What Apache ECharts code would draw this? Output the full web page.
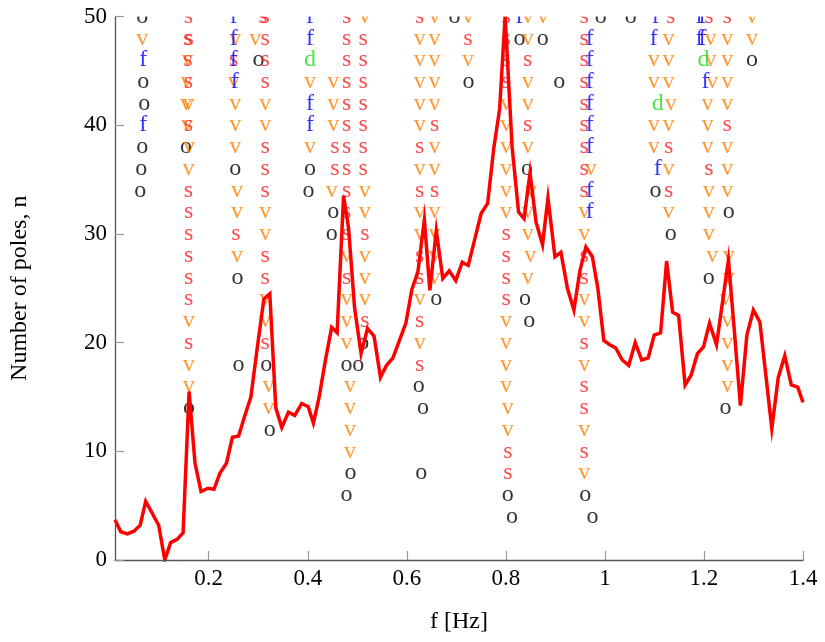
<!DOCTYPE html>
<html>
<head>
<meta charset="utf-8">
<script src="https://cdn.jsdelivr.net/npm/echarts@6/dist/echarts.min.js"></script>
<style>
  html, body { margin: 0; padding: 0; background: #fff; }
  #chart { width: 825px; height: 642px; }
</style>
</head>
<body>
<div id="chart"></div>
<script>
// Spectrum-like curve overlaid on the stabilization diagram
const freq = [0.0107,0.0223,0.0354,0.0489,0.0616,0.0727,0.0858,0.0989,0.1113,0.1230,0.1361,0.1482,0.1603,0.1723,0.1844,0.1985,0.2106,0.2227,0.2358,0.2478,0.2603,0.2730,0.2851,0.2982,0.3113,0.3233,0.3354,0.3475,0.3610,0.3737,0.3878,0.4008,0.4113,0.4230,0.4361,0.4482,0.4592,0.4723,0.4824,0.4945,0.5076,0.5206,0.5337,0.5468,0.5589,0.5720,0.5851,0.5981,0.6102,0.6223,0.6354,0.6465,0.6595,0.6726,0.6857,0.6988,0.7119,0.7240,0.7371,0.7502,0.7632,0.7753,0.7874,0.7985,0.8126,0.8256,0.8367,0.8488,0.8609,0.8740,0.8850,0.8991,0.9112,0.9243,0.9374,0.9495,0.9616,0.9746,0.9857,0.9978,1.0098,1.0219,1.0350,1.0481,1.0612,1.0743,1.0874,1.0995,1.1125,1.1246,1.1367,1.1488,1.1619,1.1740,1.1870,1.1991,1.2112,1.2253,1.2374,1.2494,1.2615,1.2736,1.2867,1.2998,1.3129,1.3250,1.3370,1.3501,1.3632,1.3763,1.3894,1.4000];
const spectrum = [3.7,2.6,2.4,2.65,3.2,5.4,4.3,3.2,0,1.6,1.9,2.5,15.5,8.9,6.3,6.6,6.5,8.0,8.9,11.3,11.4,13.3,15.0,19.6,24.0,24.5,14.0,12.2,13.6,13.3,14.4,14.1,12.6,15.0,18.5,21.4,20.9,33.5,30.5,23.2,19.0,21.3,20.6,16.8,17.9,18.6,20.2,21.8,24.9,26.5,31.3,24.8,30.3,25.9,26.6,25.7,27.4,27.1,29.5,31.9,32.8,37.8,41.5,50,38.0,32.0,31.4,35.6,31.1,29.0,33.3,27.9,28.3,25.0,23.0,26.6,28.8,27.9,25.0,20.2,19.8,19.5,18.4,17.9,20.0,18.4,18.6,20.7,20.9,27.5,22.8,22.5,16.1,17.0,19.0,19.6,21.8,19.8,23.7,27.6,21.0,14.2,20.7,23.0,21.9,17.0,12.1,16.8,18.8,16.1,15.9,14.5];

// Poles [frequency, model order] grouped by stability status
const polesNew = [ // o
  [0.0656,50],[0.0677,44],[0.0697,42],[0.0656,38],[0.0636,36],[0.0616,34],
  [0.1542,38],[0.1603,14],
  [0.2535,36],[0.2583,26],[0.2603,18],
  [0.3006,46],[0.3159,18],[0.3233,12],
  [0.4045,36],[0.4012,34],
  [0.4516,32],[0.4482,30],[0.4784,18],[0.5019,18],[0.5120,20],[0.4864,8],[0.4784,6],
  [0.6239,16],[0.6328,14],[0.6293,8],[0.6595,24],[0.6964,50],
  [0.7246,44],
  [0.8039,6],[0.8126,4],[0.8273,48],[0.8428,36],[0.8387,24],[0.8474,22],[0.8744,48],[0.9078,44],
  [0.9601,6],[0.9750,4],[0.9917,50],[1.0521,50],
  [1.1024,34],[1.1327,30],
  [1.2098,26],[1.2500,32],[1.2434,14],[1.2972,46]
];
const polesFreqDamp = [ // v
  [0.0656,48],
  [0.1572,46],[0.1552,44],[0.1542,42],[0.1592,42],[0.1562,40],[0.1603,38],[0.1592,36],
  [0.1597,22],[0.1597,18],[0.1597,16],
  [0.2535,48],[0.2503,44],[0.2535,42],[0.2535,40],[0.2535,38],[0.2569,34],[0.2569,32],[0.2569,28],
  [0.2937,48],[0.3139,42],[0.3139,40],[0.3139,32],[0.3139,30],[0.3139,24],[0.3139,22],[0.3207,16],[0.3207,14],
  [0.4045,44],[0.4045,38],
  [0.4516,44],[0.4516,42],[0.4516,40],[0.4482,34],
  [0.4784,28],[0.4784,24],[0.4784,22],[0.4784,20],[0.4850,16],[0.4850,14],[0.4850,12],[0.4850,10],
  [0.5152,50],[0.5152,34],[0.5152,32],[0.5152,28],[0.5152,26],[0.5152,24],
  [0.6561,50],[0.6259,48],[0.6561,48],[0.6259,46],[0.6561,46],[0.6259,44],[0.6561,44],[0.6259,42],[0.6561,42],
  [0.6259,40],[0.6561,38],[0.6259,36],[0.6561,36],[0.6259,32],[0.6561,32],[0.6259,30],[0.6561,30],
  [0.6561,28],[0.6561,26],[0.6259,24],[0.6259,20],
  [0.7234,50],[0.7234,46],
  [0.8005,42],[0.8005,40],[0.8005,38],[0.8005,36],[0.8005,34],[0.8005,32],[0.8005,22],[0.8005,20],
  [0.8005,18],[0.8005,16],[0.8039,14],[0.8039,12],
  [0.8442,50],[0.8442,48],[0.8442,44],[0.8442,42],[0.8442,38],[0.8508,34],[0.8442,32],[0.8442,30],[0.8494,28],[0.8442,26],
  [0.8744,50],
  [0.9716,36],[0.9581,32],[0.9581,30],[0.9581,24],[0.9581,22],[0.9581,18],[0.9581,12],[0.9581,8],
  [1.1286,48],[1.0984,46],[1.1286,46],[1.0984,44],[1.1286,44],[1.1327,42],[1.0984,40],[1.1286,40],
  [1.0984,38],[1.1286,36],[1.1286,32],
  [1.2972,50],[1.2132,48],[1.2468,48],[1.2972,48],[1.2132,46],[1.2468,46],[1.2166,44],[1.2468,44],
  [1.2072,42],[1.2468,42],[1.2072,40],[1.2072,38],[1.2468,38],[1.2468,36],[1.2098,34],[1.2468,34],
  [1.2098,32],[1.2098,30],[1.2166,28],[1.2500,28],[1.2500,26],[1.2434,24],[1.2468,22],[1.2468,20],
  [1.2468,18],[1.2468,16]
];
const polesStable = [ // s
  [0.1592,50],[0.1572,48],[0.1603,48],[0.1582,46],[0.1592,44],[0.1592,40],[0.1592,34],
  [0.1597,32],[0.1597,30],[0.1597,28],[0.1597,26],[0.1597,24],[0.1597,20],
  [0.2503,46],[0.2549,30],
  [0.3092,50],[0.3139,50],[0.3139,48],[0.3139,46],[0.3139,44],[0.3139,38],[0.3139,36],[0.3139,34],
  [0.3139,28],[0.3139,26],[0.3139,20],
  [0.4549,38],[0.4549,36],
  [0.4784,50],[0.4784,48],[0.4784,46],[0.4784,44],[0.4784,42],[0.4784,40],[0.4784,38],[0.4784,36],[0.4784,34],
  [0.4784,32],[0.4784,30],[0.4784,26],
  [0.5120,48],[0.5120,46],[0.5120,44],[0.5120,42],[0.5120,40],[0.5120,38],[0.5120,36],[0.5152,30],[0.5152,22],
  [0.6259,50],[0.6561,40],[0.6259,38],[0.6259,34],[0.6561,34],[0.6259,28],[0.6259,26],[0.6259,22],[0.6259,18],
  [0.7234,48],
  [0.8005,50],[0.8005,48],[0.8005,46],[0.8005,44],[0.8005,30],[0.8005,28],[0.8005,26],[0.8005,24],
  [0.8039,10],[0.8039,8],
  [0.8442,46],[0.8442,40],
  [0.9581,50],[0.9581,48],[0.9581,46],[0.9581,44],[0.9581,42],[0.9581,40],[0.9581,38],[0.9581,36],[0.9581,34],
  [0.9581,28],[0.9581,26],[0.9581,20],[0.9581,16],[0.9581,14],[0.9581,10],
  [1.1327,50],[1.1286,38],[1.1286,34],
  [1.2098,50],[1.2468,50],[1.2468,40],[1.2098,36]
];
const polesFreq = [ // f
  [0.0677,46],[0.0677,40],
  [0.2503,50],[0.2503,48],[0.2503,46],[0.2523,44],
  [0.4045,50],[0.4045,48],[0.4045,42],[0.4045,40],
  [0.8273,50],
  [0.9696,48],[0.9696,46],[0.9696,44],[0.9696,42],[0.9696,40],[0.9696,38],[0.9696,34],[0.9696,32],
  [1.1024,50],[1.0984,48],[1.1065,36],
  [1.1911,50],[1.1971,50],[1.1911,48],[1.1971,48],[1.2031,44]
];
const polesDamp = [ // d
  [0.4045,46],[1.1065,42],[1.1991,46]
];

const xTicks = [0.2, 0.4, 0.6, 0.8, 1.0, 1.2, 1.4];
const serif = "'Liberation Serif', 'DejaVu Serif', serif";
const GRID = { left: 113, right: 22, top: 16.5, bottom: 82 };

function poleSeries(name, data, letter, color, dy) {
  return {
    name: name,
    type: 'scatter',
    data: data,
    z: 2,
    silent: true,
    symbol: 'circle',
    symbolSize: 1,
    itemStyle: { color: 'rgba(0,0,0,0)' },
    label: {
      show: true,
      position: 'inside',
      formatter: letter,
      color: color,
      fontFamily: serif,
      fontSize: 24,
      offset: [0, dy]
    },
    labelLayout: { hideOverlap: false }
  };
}

const chart = echarts.init(document.getElementById('chart'), null, { renderer: 'canvas' });
chart.setOption({
  animation: false,
  backgroundColor: '#ffffff',
  grid: GRID,
  // white band above the plot area so marks at n = 50 are cut at the frame
  graphic: [{
    type: 'rect',
    z: 15,
    silent: true,
    shape: { x: 0, y: 0, width: 825, height: GRID.top },
    style: { fill: '#ffffff' }
  }],
  xAxis: {
    type: 'value',
    min: freq[0],
    max: 1.4,
    z: 20,
    name: 'f [Hz]',
    nameLocation: 'middle',
    nameGap: 50,
    nameTextStyle: { fontFamily: serif, fontSize: 24, color: '#000' },
    axisLine: { show: true, onZero: false, lineStyle: { color: '#555', width: 1.3 } },
    axisTick: { show: true, inside: true, length: 9, customValues: xTicks, lineStyle: { color: '#999', width: 1.2 } },
    axisLabel: {
      customValues: xTicks,
      formatter: v => (Math.abs(v - 1) < 1e-9 ? '1' : v.toFixed(1)),
      fontFamily: serif, fontSize: 23, color: '#000', margin: 7
    },
    splitLine: { show: false }
  },
  yAxis: {
    type: 'value',
    min: 0,
    max: 50,
    interval: 10,
    z: 20,
    name: 'Number of poles, n',
    nameLocation: 'middle',
    nameGap: 83,
    nameRotate: 90,
    nameTextStyle: { fontFamily: serif, fontSize: 24, color: '#000' },
    axisLine: { show: true, onZero: false, lineStyle: { color: '#555', width: 1.3 } },
    axisTick: { show: true, inside: true, length: 9, lineStyle: { color: '#999', width: 1.2 } },
    axisLabel: { fontFamily: serif, fontSize: 23, color: '#000', margin: 8 },
    splitLine: { show: false }
  },
  series: [
    poleSeries('new', polesNew, 'o', '#000000', -2),
    poleSeries('freq+damp', polesFreqDamp, 'v', '#ff8000', -2),
    poleSeries('stable', polesStable, 's', '#ff2020', -2),
    poleSeries('freq', polesFreq, 'f', '#0000ff', 0),
    poleSeries('damp', polesDamp, 'd', '#1fe01f', 0),
    {
      name: 'spectrum',
      type: 'line',
      data: freq.map((f, i) => [f, spectrum[i]]),
      z: 10,
      silent: true,
      symbol: 'none',
      clip: true,
      lineStyle: { color: '#ff0000', width: 3.5, join: 'miter' }
    }
  ]
});
</script>
</body>
</html>
